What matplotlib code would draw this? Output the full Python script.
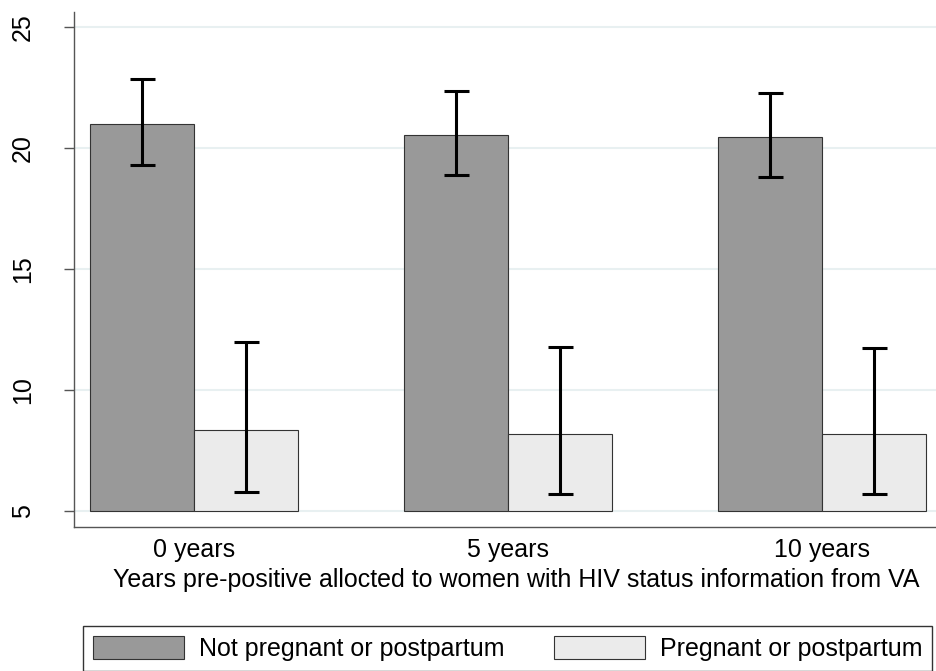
import matplotlib
matplotlib.use("Agg")
import matplotlib.pyplot as plt
import numpy as np

plt.rcParams["font.family"] = ["Liberation Sans", "DejaVu Sans"]

# Data
groups = ["0 years", "5 years", "10 years"]
series = ["Not pregnant or postpartum", "Pregnant or postpartum"]
not_preg = [21.0, 20.55, 20.47]
not_preg_lo = [19.3, 18.88, 18.8]
not_preg_hi = [22.85, 22.36, 22.27]
preg = [8.35, 8.2, 8.18]
preg_lo = [5.8, 5.7, 5.7]
preg_hi = [11.97, 11.78, 11.75]
colors = ["#999999", "#ebebeb"]
base = 5

W, H = 936, 671
FS = 18
fig = plt.figure(figsize=(W / 100, H / 100), dpi=100)
ax = fig.add_axes([74 / W, (H - 527) / H, (W - 74) / W, (527 - 12) / H])

x = np.arange(len(groups))
width = 104 / 314

vals = [not_preg, preg]
los = [not_preg_lo, preg_lo]
his = [not_preg_hi, preg_hi]
for i in range(2):
    pos = x + (i - 0.5) * width
    v = np.array(vals[i])
    ax.bar(pos, v - base, bottom=base, width=width, color=colors[i],
           edgecolor="#333333", linewidth=0.8, label=series[i], zorder=2)
    yerr = [v - np.array(los[i]), np.array(his[i]) - v]
    ax.errorbar(pos, v, yerr=yerr, fmt="none", ecolor="black",
                elinewidth=2.2, capsize=9, capthick=2.2, zorder=3)

ax.set_xlim(-(194 - 74) / 314, (936 - 194) / 314)
ax.set_ylim(4.34, 25.62)
ax.set_yticks([5, 10, 15, 20, 25])
ax.set_xticks(x)
ax.set_xticklabels(groups)
ax.grid(axis="y", color="#e8f0f1", linewidth=1.5, zorder=0)
ax.set_axisbelow(True)

for s in ["top", "right"]:
    ax.spines[s].set_visible(False)
for s in ["left", "bottom"]:
    ax.spines[s].set_color("#555555")
    ax.spines[s].set_linewidth(1.0)

ax.tick_params(axis="y", length=7, width=1, color="#555555", pad=21,
               labelsize=FS, labelrotation=90)
for lbl in ax.get_yticklabels():
    lbl.set_va("center")
ax.tick_params(axis="x", length=0, pad=8, labelsize=FS)
ax.set_xlabel("Years pre-positive allocted to women with HIV status information from VA",
              fontsize=FS)
ax.xaxis.set_label_coords((516 - 74) / (W - 74), -(580 - 527) / (527 - 12))
ax.xaxis.label.set_va("center")

leg = fig.legend(loc="upper left", bbox_to_anchor=(83 / W, 1 - 626 / H),
                 ncol=2, fontsize=FS, frameon=True,
                 fancybox=False, edgecolor="black", handlelength=3.65,
                 handleheight=1.05, handletextpad=0.6, borderaxespad=0,
                 borderpad=0.4, columnspacing=1.95)
leg.get_frame().set_linewidth(1.0)

fig.savefig("out.png", dpi=100)
